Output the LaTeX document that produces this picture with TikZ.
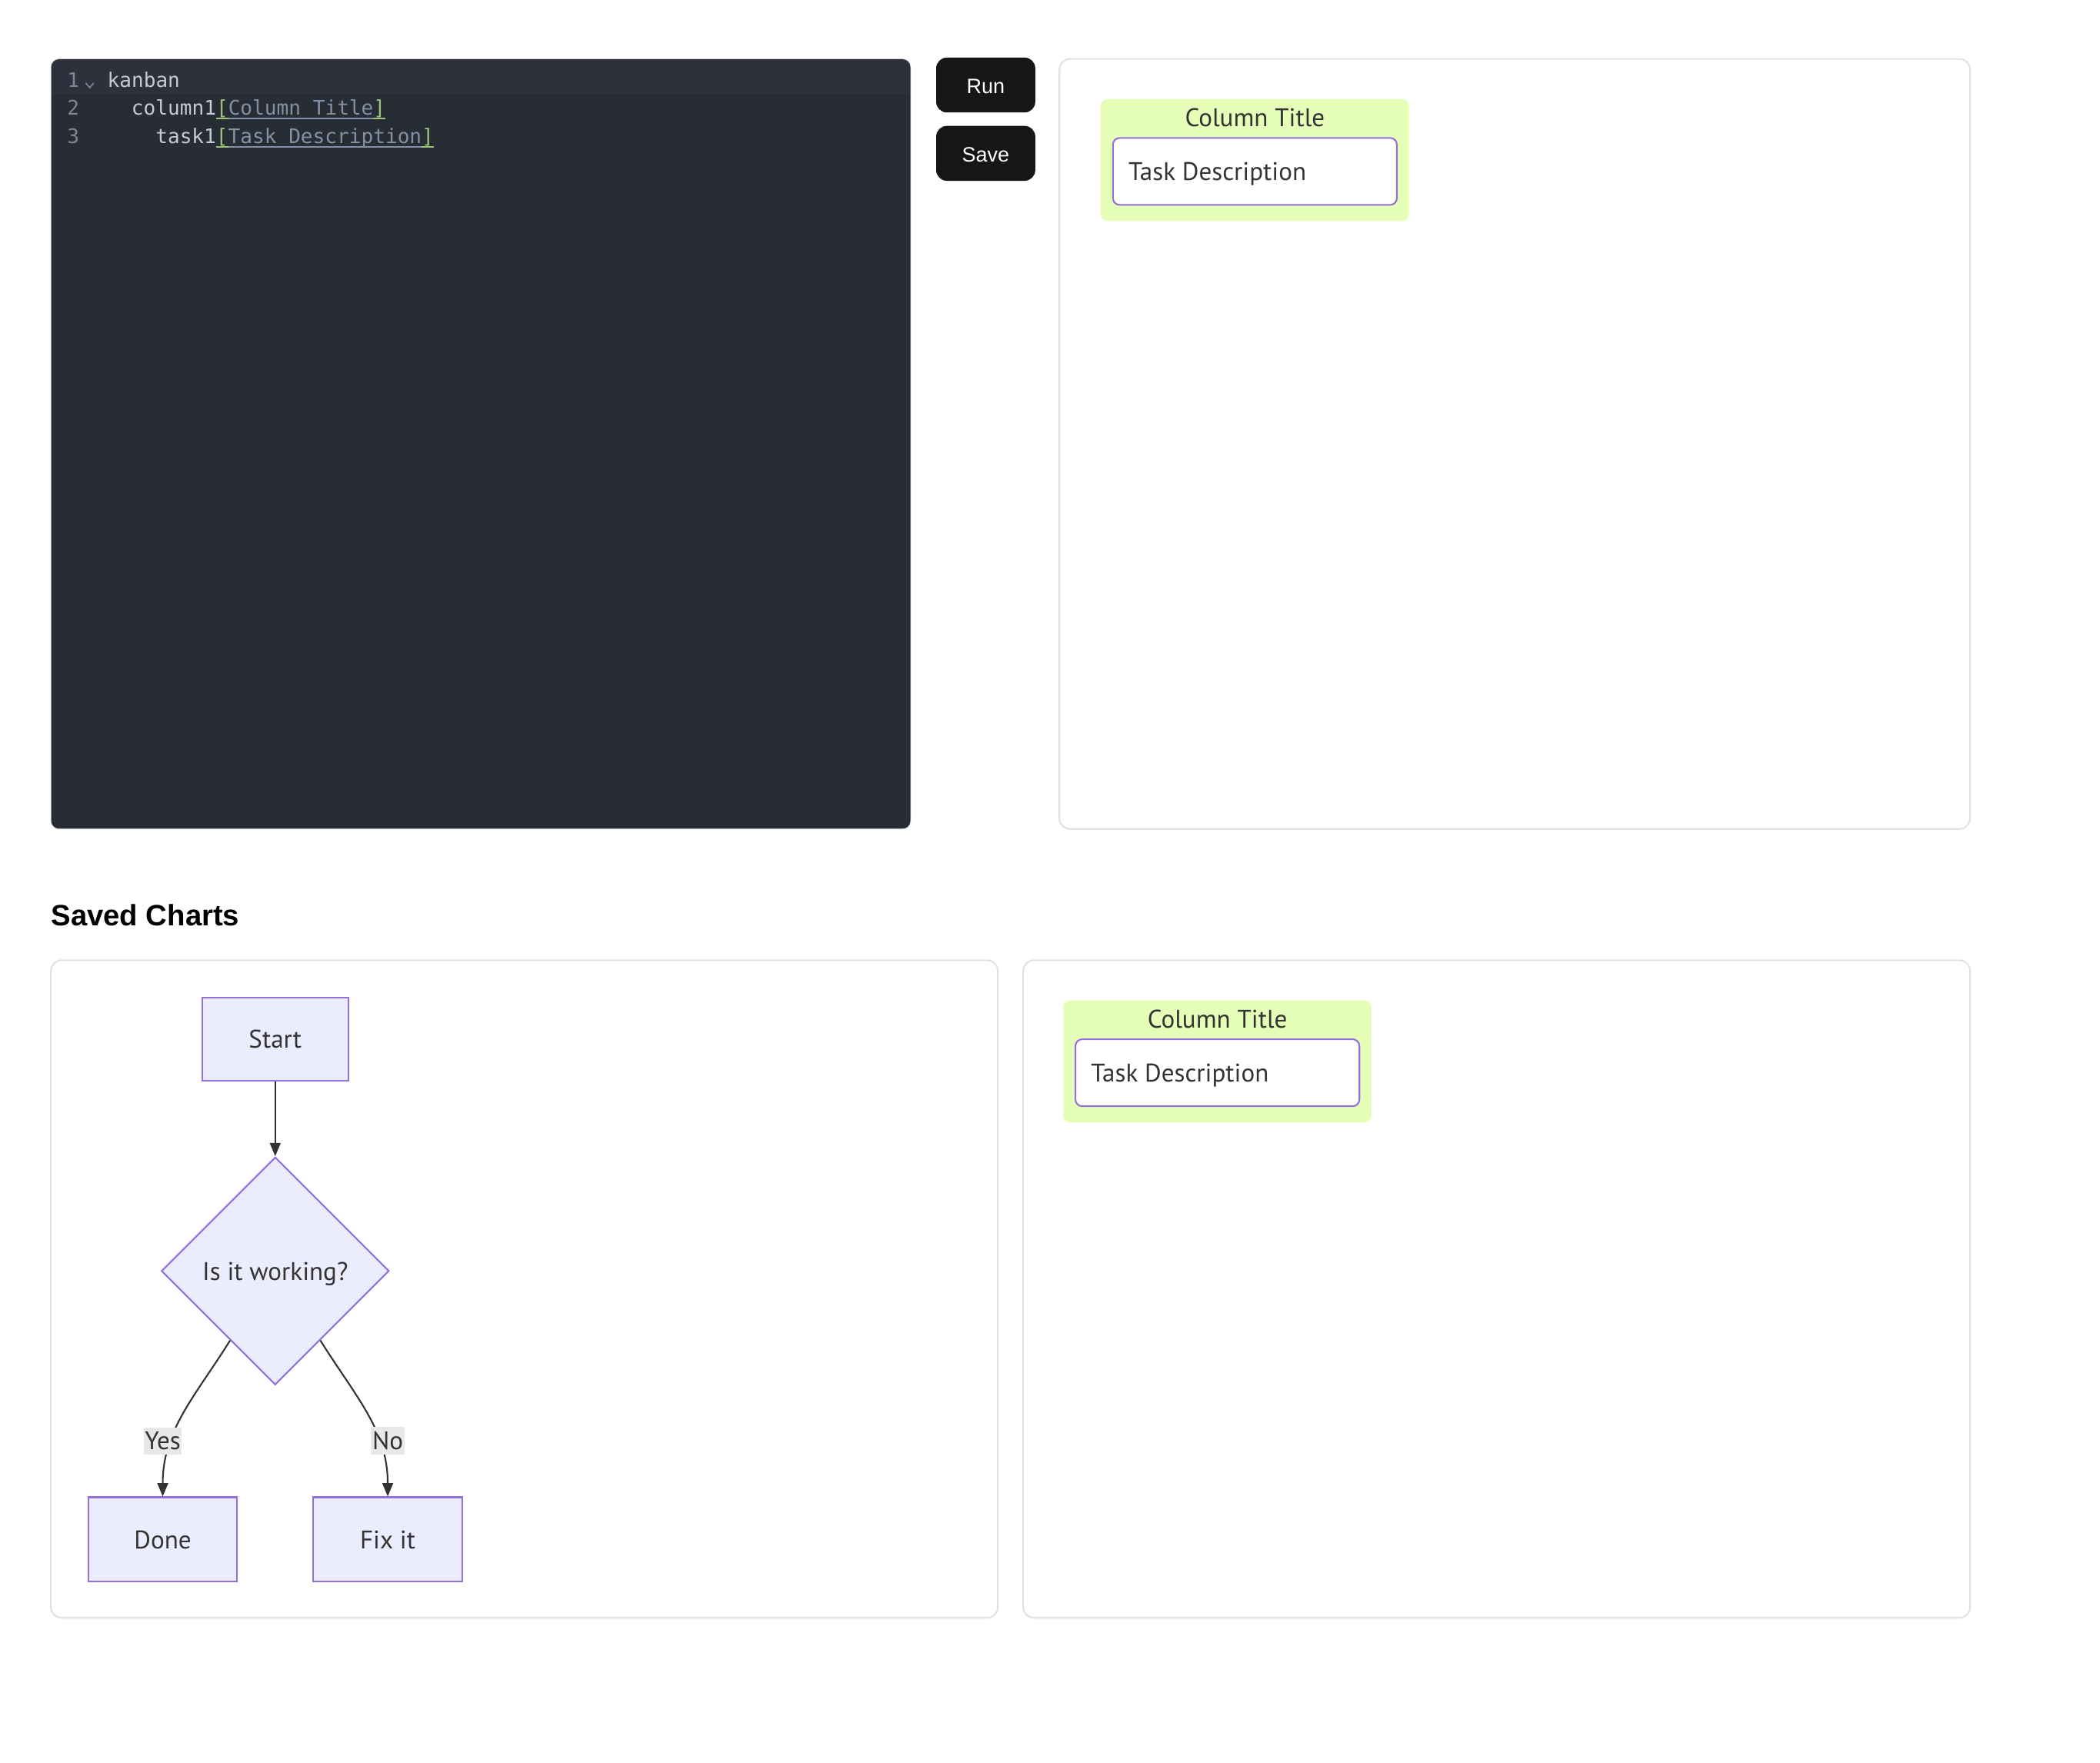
\documentclass[tikz,border=0pt]{standalone}
\usepackage{fontspec}
\setmainfont{PT Sans}
\newfontfamily\uifont{Liberation Sans}
\newfontfamily\codefont{DejaVu Sans Mono}
\usetikzlibrary{shapes.geometric,arrows.meta}
\definecolor{editorbg}{HTML}{282C34}
\definecolor{editorband}{HTML}{2C313C}
\definecolor{lnum}{HTML}{7D8799}
\definecolor{codetext}{HTML}{C5CAD3}
\definecolor{codegray}{HTML}{8390A5}
\definecolor{codegreen}{HTML}{98C379}
\definecolor{btnbg}{HTML}{161616}
\definecolor{panelline}{HTML}{E2E2E2}
\definecolor{lime}{HTML}{E6FFB8}
\definecolor{mpurple}{HTML}{9370DB}
\definecolor{mnode}{HTML}{ECECFF}
\definecolor{mtext}{HTML}{333333}
\definecolor{lblbg}{HTML}{E8E8E8}
\newcommand\codeul[1]{\sbox0{#1}\rlap{\usebox0}\rule[-3pt]{\wd0}{0.9pt}}
\newcommand\codebr[1]{\textcolor{codegreen}{\codeul{[}}\textcolor{codegray}{\codeul{#1}}\textcolor{codegreen}{\codeul{]}}}
\tikzset{
  panel/.style={draw=panelline, line width=1.2pt, rounded corners=8pt, fill=white},
  btn/.style={fill=btnbg, rounded corners=8pt, text=white, inner sep=0pt, text height=13pt, text depth=0pt,
    font=\uifont\fontsize{15.5}{18}\selectfont, minimum width=74pt, minimum height=41pt},
  code/.style={anchor=base west, inner sep=0pt, font=\codefont\fontsize{15}{18}\selectfont},
  flow/.style={draw=mpurple, fill=mnode, line width=1.2pt, text=mtext, inner sep=0pt, text depth=0pt,
    font=\fontsize{19}{22}\selectfont},
  card/.style={draw=mpurple, fill=white, line width=1.2pt, rounded corners=5pt, inner sep=0pt,
    minimum width=212pt, minimum height=50pt},
  ktext/.style={text=mtext, inner sep=0pt, text depth=0pt, font=\fontsize{19}{22}\selectfont},
  edge/.style={draw=mtext, line width=1.2pt, -{Triangle[length=10pt,width=8pt]}},
  elabel/.style={fill=lblbg, text=mtext, inner xsep=1pt, inner ysep=3.5pt, font=\fontsize{19}{22}\selectfont}
}
\begin{document}
\begin{tikzpicture}[x=1pt,y=1pt]
  \useasboundingbox[fill=white] (0,0) rectangle (1568,-1316.4);
  % editor
  \path [fill=editorbg, draw=panelline, rounded corners=6pt] (38,-44) rectangle (680,-619);
  \path [fill=editorband] (38.6,-70) [rounded corners=6pt] -- (38.6,-44.6) -- (679.4,-44.6) [sharp corners] -- (679.4,-70) -- cycle;
  \node[code, text=lnum] (l1) at (50,-65) {1};
  \node[code, text=lnum] (l2) at (50,-86) {2};
  \node[code, text=lnum] (l3) at (50,-107) {3};
  \draw [lnum, line width=0.9pt] (64,-62) -- (67,-65.5) -- (70,-62);
  \node[code, text=codetext] (c1) at (80,-65) {kanban};
  \node[code, text=codetext] (c2) at (98,-86) {column1\codebr{Column Title}};
  \node[code, text=codetext] (c3) at (116,-107) {task1\codebr{Task Description}};
  % buttons
  \node[btn] (run) at (736,-63.5) {Run};
  \node[btn] (save) at (736,-114.5) {Save};
  % panels
  \path [panel] (791,-44) rectangle (1471,-619);
  \node[anchor=base west, inner sep=0pt, font=\uifont\bfseries\fontsize{22}{26}\selectfont] (saved) at (38,-691) {Saved Charts};
  \path [panel] (38,-717) rectangle (745,-1208);
  \path [panel] (764,-717) rectangle (1471,-1208);
  % kanban boards
  \foreach \bx/\by/\nm in {822/74/a, 794/747/b}{
    \path [fill=lime, rounded corners=5pt] (\bx,-\by) rectangle (\bx+230,-\by-91);
    \node[ktext] (title\nm) at (\bx+115,-\by-14) {Column Title};
    \node[card] (card\nm) at (\bx+115,-\by-54) {};
    \node[ktext, anchor=west] (task\nm) at ([xshift=12pt]card\nm.west) {Task Description};
  }
  % flowchart
  \node[flow, minimum width=109pt, minimum height=62pt] (start) at (205.5,-776) {Start};
  \node[flow, diamond, minimum width=170pt, minimum height=170pt] (dec) at (205.5,-949) {Is it working?};
  \node[flow, minimum width=111pt, minimum height=63pt] (done) at (121.5,-1149.5) {Done};
  \node[flow, minimum width=111pt, minimum height=63pt] (fix) at (289.5,-1149.5) {Fix it};
  \draw [edge] (start) -- (dec);
  \draw [edge] (dec.237) to[out=-122, in=90] (done.north);
  \draw [edge] (dec.303) to[out=-58, in=90] (fix.north);
  \node[elabel] (yes) at (121.5,-1076) {Yes};
  \node[elabel] (no) at (289.5,-1076) {No};
\end{tikzpicture}
\end{document}
